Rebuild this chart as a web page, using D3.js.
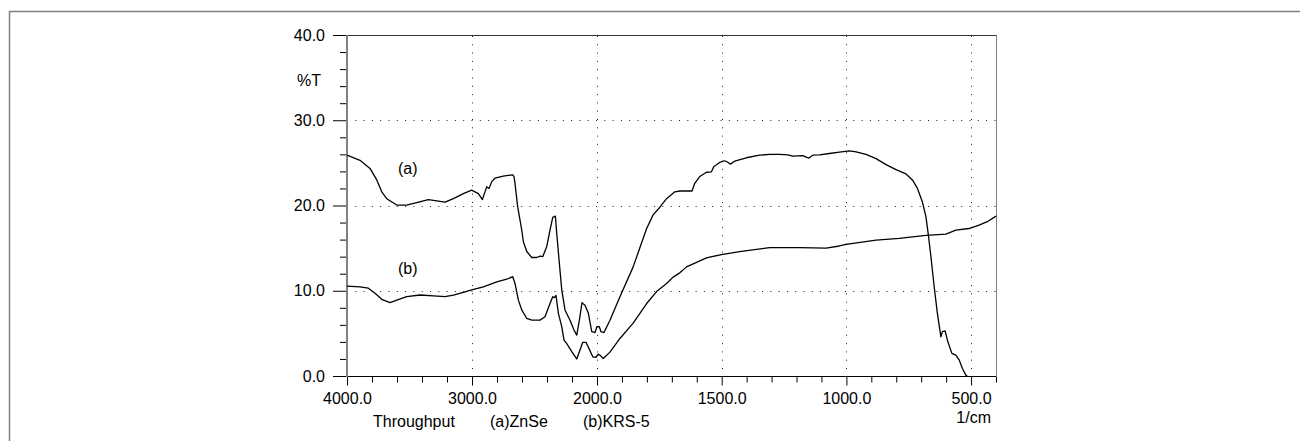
<!DOCTYPE html>
<html>
<head>
<meta charset="utf-8">
<script src="https://cdn.jsdelivr.net/npm/d3@7"></script>
<style>
  body { margin: 0; background: #fff; }
  svg { display: block; font-family: "Liberation Sans", Arial, sans-serif; }
</style>
</head>
<body>
<svg id="chart" width="1300" height="441"></svg>
<script>
// Spectrum (a) ZnSe: wavenumber (1/cm) and %T
var waveA = [4000, 3896, 3816, 3762, 3722, 3682, 3602, 3522, 3442, 3349, 3282, 3216, 3149, 3069, 3003,
  2976, 2949, 2917, 2896, 2882, 2864, 2842, 2816, 2750, 2674, 2664, 2656, 2635, 2602, 2589, 2562,
  2522, 2482, 2456, 2434, 2402, 2376, 2354, 2333, 2322, 2301, 2282, 2256, 2216, 2184, 2162, 2141,
  2120, 2096, 2069, 2042, 2016, 2000, 1991, 1984, 1972, 1948, 1908, 1855, 1801, 1775, 1748, 1721,
  1688, 1668, 1619, 1608, 1588, 1561, 1541, 1532, 1508, 1488, 1477, 1465, 1448, 1401, 1348, 1308,
  1268, 1235, 1215, 1175, 1151, 1135, 1108, 1068, 1028, 988, 961, 921, 881, 841, 801, 761, 735,
  715, 695, 681, 671, 661, 648, 635, 621, 615, 604, 595, 577, 561, 548, 535, 521, 515];
var transA = [25.9, 25.3, 24.35, 23.0, 21.6, 20.8, 20.05, 20.05, 20.35, 20.7, 20.55, 20.4, 20.8, 21.4, 21.8,
  21.6, 21.4, 20.7, 21.6, 22.2, 22.0, 22.8, 23.2, 23.45, 23.6, 23.4, 22.6, 19.9, 17.1, 15.75, 14.6,
  13.9, 13.9, 14.05, 14.0, 15.2, 17.1, 18.6, 18.75, 16.7, 13.2, 10.1, 7.75, 6.55, 5.4, 4.8, 6.55,
  8.6, 8.3, 7.35, 5.2, 5.1, 5.8, 5.8, 5.2, 5.1, 6.55, 9.3, 12.8, 17.3, 18.9, 19.8, 20.8,
  21.6, 21.7, 21.7, 22.6, 23.4, 23.9, 23.95, 24.55, 25.05, 25.25, 25.1, 24.85, 25.2, 25.6, 25.9, 26.0,
  26.0, 25.95, 25.8, 25.85, 25.55, 25.9, 25.95, 26.1, 26.25, 26.4, 26.3, 26.0, 25.5, 24.8, 24.2, 23.7, 23.0,
  22.0, 20.4, 18.7, 16.5, 14.0, 10.5, 7.35, 4.6, 5.2, 5.3, 4.2, 2.65, 2.45, 1.9, 0.9, 0.1, 0.0];

// Spectrum (b) KRS-5
var waveB = [4000, 3896, 3829, 3776, 3722, 3656, 3602, 3522, 3416, 3309, 3216, 3149, 3069, 3003, 2909,
  2802, 2722, 2674, 2656, 2629, 2602, 2562, 2522, 2456, 2416, 2376, 2354, 2341, 2328, 2309, 2282,
  2264, 2242, 2202, 2162, 2136, 2114, 2088, 2062, 2034, 2008, 1995, 1988, 1975, 1948, 1908, 1855,
  1801, 1761, 1721, 1695, 1668, 1641, 1561, 1501, 1428, 1308, 1188, 1081, 1028, 1001, 881, 788,
  681, 601, 561, 508, 468, 435, 400];
var transB = [10.55, 10.45, 10.3, 9.7, 9.0, 8.6, 8.9, 9.3, 9.5, 9.4, 9.3, 9.5, 9.8, 10.1, 10.45,
  11.05, 11.35, 11.65, 10.85, 8.9, 7.75, 6.75, 6.55, 6.55, 6.95, 8.5, 9.3, 9.2, 9.45, 7.35, 5.8,
  4.2, 3.8, 2.85, 2.0, 3.05, 3.95, 3.95, 3.15, 2.25, 2.2, 2.55, 2.45, 2.05, 2.8, 4.4, 6.2,
  8.5, 9.9, 10.85, 11.6, 12.1, 12.8, 13.85, 14.25, 14.6, 15.05, 15.05, 15.0, 15.25, 15.45, 15.95, 16.15,
  16.5, 16.65, 17.1, 17.3, 17.7, 18.1, 18.75];

var xMajor = [4000, 3000, 2000, 1500, 1000, 500];
var xMinorHigh = [3800, 3600, 3400, 3200, 2800, 2600, 2400, 2200];
var xMinorLow = [1900, 1800, 1700, 1600, 1400, 1300, 1200, 1100, 900, 800, 700, 600, 400];
var yMajor = [0, 10, 20, 30, 40];
var yMinor = [2, 4, 6, 8, 12, 14, 16, 18, 22, 24, 26, 28, 32, 34, 36, 38];
var xGrid = [3000, 2000, 1500, 1000, 500];
var yGrid = [10, 20, 30];

var svg = d3.select("#chart");

// outer frame
svg.append("rect")
  .attr("x", 9.5).attr("y", 11.5)
  .attr("width", 1400).attr("height", 500)
  .attr("fill", "none").attr("stroke", "#808080").attr("stroke-width", 1.5);

// scale changes at 2000 1/cm like the instrument print
var x = d3.scaleLinear().domain([4000, 2000, 400]).range([347, 597, 996]);
var y = d3.scaleLinear().domain([0, 40]).range([376, 35]);

var fmt = d3.format(".1f");

// grid
svg.append("g").selectAll("line").data(yGrid).join("line")
  .attr("x1", 347).attr("x2", 996)
  .attr("y1", function(d) { return Math.round(y(d)) + 0.5; })
  .attr("y2", function(d) { return Math.round(y(d)) + 0.5; })
  .attr("stroke", "#222").attr("stroke-width", 1).attr("stroke-dasharray", "1,7.3");
svg.append("g").selectAll("line").data(xGrid).join("line")
  .attr("x1", function(d) { return Math.round(x(d)) + 0.5; })
  .attr("x2", function(d) { return Math.round(x(d)) + 0.5; })
  .attr("y1", 36).attr("y2", 376)
  .attr("stroke", "#222").attr("stroke-width", 1).attr("stroke-dasharray", "1,7.3");

// top and right border
svg.append("line").attr("x1", 333).attr("x2", 996).attr("y1", 35.5).attr("y2", 35.5)
  .attr("stroke", "#333").attr("stroke-width", 1);
svg.append("line").attr("x1", 996.5).attr("x2", 996.5).attr("y1", 35).attr("y2", 376)
  .attr("stroke", "#808080").attr("stroke-width", 1);

// bottom axis
var gx = svg.append("g").attr("transform", "translate(0,376.5)");
gx.call(d3.axisBottom(x).tickValues(xMajor).tickSize(9).tickPadding(7).tickFormat(fmt))
  .call(function(g) { g.select(".domain").remove(); });
gx.append("g").call(d3.axisBottom(x).tickValues(xMinorHigh.concat(xMinorLow)).tickSize(6).tickFormat(""))
  .call(function(g) { g.select(".domain").remove(); });
gx.append("line").attr("x1", 333).attr("x2", 996).attr("stroke", "#000");
gx.selectAll("text").attr("font-size", 16).attr("fill", "#000").attr("font-family", "Liberation Sans, Arial, sans-serif");

// left axis
var gy = svg.append("g").attr("transform", "translate(347,0)");
gy.call(d3.axisLeft(y).tickValues(yMajor).tickSize(14).tickPadding(8).tickFormat(fmt))
  .call(function(g) { g.select(".domain").remove(); });
gy.append("g").call(d3.axisLeft(y).tickValues(yMinor).tickSize(7).tickFormat(""))
  .call(function(g) { g.select(".domain").remove(); });
gy.append("line").attr("y1", 35).attr("y2", 377).attr("stroke", "#808080").attr("stroke-width", 2);
gy.selectAll("text").attr("font-size", 16).attr("fill", "#000").attr("font-family", "Liberation Sans, Arial, sans-serif");

// spectra
var line = d3.line()
  .x(function(d) { return x(d[0]); })
  .y(function(d) { return y(d[1]); });

svg.append("path")
  .datum(d3.zip(waveA, transA))
  .attr("fill", "none").attr("stroke", "#000").attr("stroke-width", 1.3)
  .attr("stroke-linejoin", "round")
  .attr("d", line);

svg.append("path")
  .datum(d3.zip(waveB, transB))
  .attr("fill", "none").attr("stroke", "#000").attr("stroke-width", 1.3)
  .attr("stroke-linejoin", "round")
  .attr("d", line);

// texts
function label(t, px, py, anchor) {
  svg.append("text").attr("x", px).attr("y", py)
    .attr("font-size", 16).attr("text-anchor", anchor || "start").text(t);
}
label("%T", 297, 86);
label("(a)", 398, 174);
label("(b)", 398, 274);
label("Throughput", 373, 427);
label("(a)ZnSe", 490, 427);
label("(b)KRS-5", 583, 427);
label("1/cm", 991, 423, "end");
</script>
</body>
</html>
